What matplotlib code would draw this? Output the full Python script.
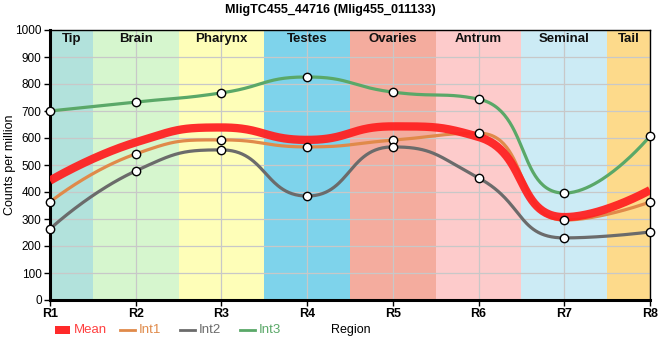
import numpy as np
import matplotlib
matplotlib.use("Agg")
import matplotlib.pyplot as plt
from matplotlib.patches import Rectangle
from matplotlib.lines import Line2D

plt.rcParams['font.family'] = ['Liberation Sans', 'DejaVu Sans']

regions = ["R1", "R2", "R3", "R4", "R5", "R6", "R7", "R8"]
bands = ["Tip", "Brain", "Pharynx", "Testes", "Ovaries", "Antrum", "Seminal", "Tail"]
band_colors = ["#b2e2dc", "#d6f6ce", "#fefeb8", "#7ed3eb", "#f4ac9e", "#fdcbcb", "#ccebf5", "#fdda8b"]
mean = [442, 584, 639, 593, 643, 604, 307, 407]
int1 = [363, 541, 593, 567, 592, 618, 296, 363]
int2 = [263, 478, 556, 385, 567, 452, 230, 252]
int3 = [700, 733, 767, 826, 770, 744, 396, 607]
yticks = [0, 100, 200, 300, 400, 500, 600, 700, 800, 900, 1000]


def smooth_path(P, smooth=0.5, n=60):
    """Smoothed bezier path through pixel points P (N x 2), echarts-style."""
    P = np.asarray(P, float)
    N = len(P)
    out = [P[0:1]]
    cp0 = P[0].copy()
    for i in range(1, N):
        prev, cur = P[i - 1], P[i]
        if i == N - 1:
            cp1 = cur.copy()
            ncp0 = None
        else:
            nxt = P[i + 1]
            v = nxt - prev
            lp = np.hypot(*(cur - prev))
            ln = np.hypot(*(nxt - cur))
            r = ln / (ln + lp)
            ncp0 = cur + v * smooth * r
            ncp0 = np.minimum(ncp0, np.maximum(nxt, cur))
            ncp0 = np.maximum(ncp0, np.minimum(nxt, cur))
            v = ncp0 - cur
            cp1 = cur - v * lp / ln
            cp1 = np.minimum(cp1, np.maximum(prev, cur))
            cp1 = np.maximum(cp1, np.minimum(prev, cur))
            v = cur - cp1
            ncp0 = cur + v * ln / lp
        t = np.linspace(0, 1, n)[1:, None]
        seg = ((1 - t) ** 3) * prev + 3 * ((1 - t) ** 2) * t * cp0 + 3 * (1 - t) * t ** 2 * cp1 + t ** 3 * cur
        out.append(seg)
        cp0 = ncp0
    return np.vstack(out)


fig = plt.figure(figsize=(6.6, 3.6), dpi=100)
ax = fig.add_axes([50 / 660, 60 / 360, 600 / 660, 270 / 360])
xpos = np.arange(1, len(regions) + 1)
ax.set_xlim(1, len(regions))
ax.set_ylim(0, 1000)

edges = [1] + [i + 0.5 for i in range(1, len(regions))] + [len(regions)]
for i, (b, c) in enumerate(zip(bands, band_colors)):
    ax.add_patch(Rectangle((edges[i], 0), edges[i + 1] - edges[i], 1000, facecolor=c,
                           edgecolor="none", zorder=0))
    ax.text((edges[i] + edges[i + 1]) / 2, 988, b, ha="center", va="top",
            fontsize=9.5, fontweight="bold", color="#111111", zorder=5)

ax.set_xticks(xpos)
ax.set_xticklabels(regions, fontsize=9, fontweight="bold")
ax.set_yticks(yticks)
ax.set_yticklabels([str(v) for v in yticks], fontsize=8.5)
ax.grid(True, color="#c8c8c8", linewidth=0.9, zorder=1)
for gl in ax.get_xgridlines() + ax.get_ygridlines():
    gl.set_zorder(1)
ax.tick_params(axis="both", length=4, width=1, pad=2)


def draw_curve(vals, **kw):
    pts = ax.transData.transform(np.column_stack([xpos, vals]))
    path = smooth_path(pts)
    d = ax.transData.inverted().transform(path)
    ax.plot(d[:, 0], d[:, 1], **kw)


series = [("Int1", int1, "#e08a4a"), ("Int2", int2, "#6b6b6b"), ("Int3", int3, "#5aa868")]
for name, vals, col in series:
    draw_curve(vals, color=col, lw=2.3, zorder=3, solid_capstyle="round")
draw_curve(mean, color="#ff2222", lw=6.0, zorder=4, alpha=0.95, solid_capstyle="butt")
for name, vals, col in series:
    ax.plot(xpos, vals, "o", ms=6, mfc="white", mec="black", mew=1.0, zorder=6, clip_on=False)

for side in ["left", "bottom"]:
    ax.spines[side].set_linewidth(2.2)
for side in ["top", "right"]:
    ax.spines[side].set_linewidth(1)

fig.text(10 / 660, 1 - 165 / 360, "Counts per million", rotation=90, ha="center", va="center",
         fontsize=9)

fig.text(0.5, 1 - 10 / 360, "MligTC455_44716 (Mlig455_011133)", ha="center", va="center",
         fontsize=9, fontweight="bold")

# legend
ly = 1 - 330 / 360
fig.patches.append(Rectangle((55 / 660, ly - 4 / 360), 15 / 660, 8 / 360, transform=fig.transFigure,
                             facecolor="#ff2a2a", edgecolor="none"))
fig.text(74 / 660, ly, "Mean", color="#ff4040", fontsize=9.5, va="center")
for (name, vals, col), x0 in zip(series, [120, 180, 240]):
    fig.lines.append(Line2D([x0 / 660, (x0 + 15) / 660], [ly, ly], transform=fig.transFigure,
                            color=col, lw=2))
    fig.text((x0 + 19) / 660, ly, name, color=col, fontsize=9.5, va="center")
fig.text(331 / 660, ly, "Region", color="black", fontsize=9, va="center")

fig.savefig("out.png", dpi=100)
